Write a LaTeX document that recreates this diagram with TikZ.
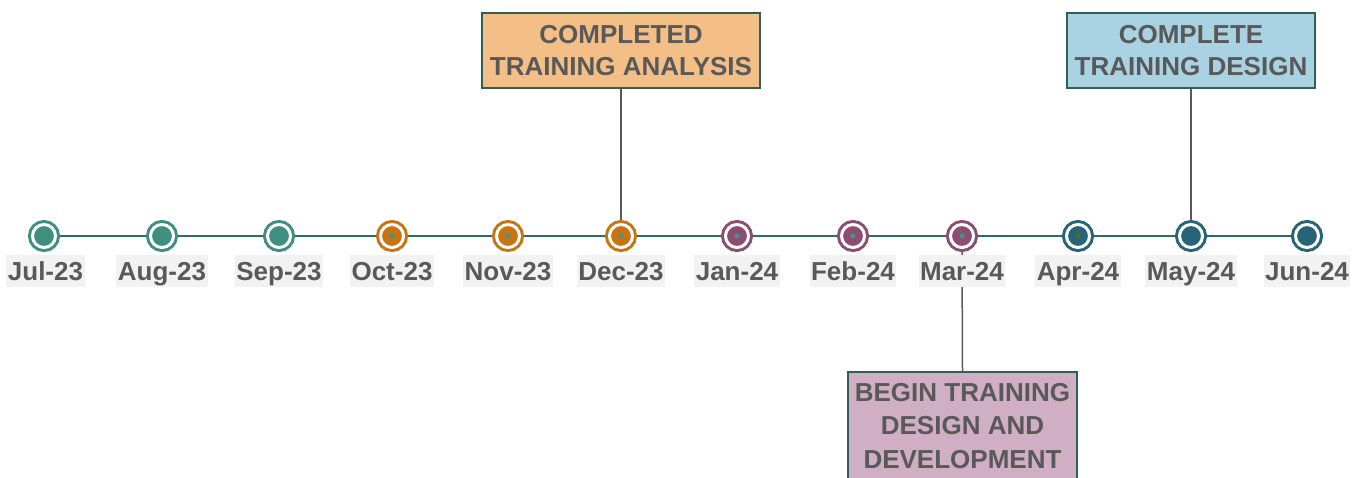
\documentclass[tikz,border=0pt]{standalone}
\usepackage{fontspec}
\setmainfont{Liberation Sans}
\usetikzlibrary{backgrounds}

\definecolor{axisline}{HTML}{2F6A64}
\definecolor{boxline}{HTML}{2F5F57}
\definecolor{linkgray}{HTML}{595959}
\definecolor{txtgray}{HTML}{595959}
\definecolor{labelbg}{HTML}{F2F2F2}
\definecolor{qone}{HTML}{3F8F81}
\definecolor{qtwo}{HTML}{C97412}
\definecolor{qthree}{HTML}{8B4E72}
\definecolor{qfour}{HTML}{286478}
\definecolor{dotteal}{HTML}{479482}
\definecolor{dotolive}{HTML}{5F6A1D}
\definecolor{analysisfill}{HTML}{F4BF86}
\definecolor{designfill}{HTML}{A9D3E3}
\definecolor{devfill}{HTML}{D0AFC4}

\begin{document}
\begin{tikzpicture}[
    font=\fontsize{14.8}{18}\selectfont\bfseries,
    ms/.style={circle,minimum size=0.46cm,inner sep=0pt,outer sep=0.09cm,
      line width=0.06cm,draw=#1,double=white,double distance=0.06cm,fill=#1},
    month/.style={fill=labelbg,text=txtgray,inner xsep=0.03cm,inner ysep=0.12cm,
      text height=0.38cm,text depth=0.02cm},
    goal/.style={draw=boxline,line width=0.04cm,align=center,text=txtgray,inner sep=0pt},
    link/.style={draw=linkgray,line width=0.03cm}
  ]
    \useasboundingbox (0,-4.82) rectangle (27.28,4.72);
    \clip (0,-4.82) rectangle (27.28,4.72);

    % milestones
    \node[ms=qone] (jul) at (0.88,0) {};
    \node[ms=qone] (aug) at (3.24,0) {};
    \node[ms=qone] (sep) at (5.58,0) {};
    \node[ms=qtwo] (oct) at (7.84,0) {};
    \node[ms=qtwo] (nov) at (10.16,0) {};
    \node[ms=qtwo] (dec) at (12.42,0) {};
    \node[ms=qthree] (jan) at (14.74,0) {};
    \node[ms=qthree] (feb) at (17.06,0) {};
    \node[ms=qthree] (mar) at (19.24,0) {};
    \node[ms=qfour] (apr) at (21.56,0) {};
    \node[ms=qfour] (may) at (23.82,0) {};
    \node[ms=qfour] (jun) at (26.14,0) {};

    \fill[dotteal] (oct) circle (0.05);
    \fill[dotteal] (nov) circle (0.05);
    \fill[dotteal] (dec) circle (0.05);
    \fill[dotteal] (jan) circle (0.05);
    \fill[dotteal] (feb) circle (0.05);
    \fill[dotteal] (mar) circle (0.05);
    \fill[dotolive] (apr) circle (0.05);

    % month labels
    \node[month] (l-jul) at (0.91,-0.70) {Jul-23};
    \node[month] (l-aug) at (3.24,-0.70) {Aug-23};
    \node[month] (l-sep) at (5.58,-0.70) {Sep-23};
    \node[month] (l-oct) at (7.84,-0.70) {Oct-23};
    \node[month] (l-nov) at (10.16,-0.70) {Nov-23};
    \node[month] (l-dec) at (12.42,-0.70) {Dec-23};
    \node[month] (l-jan) at (14.74,-0.70) {Jan-24};
    \node[month] (l-feb) at (17.06,-0.70) {Feb-24};
    \node[month] (l-mar) at (19.24,-0.70) {Mar-24};
    \node[month] (l-apr) at (21.56,-0.70) {Apr-24};
    \node[month] (l-may) at (23.82,-0.70) {May-24};
    \node[month] (l-jun) at (26.14,-0.70) {Jun-24};

    % goal boxes
    \node[goal,fill=analysisfill,minimum width=5.56cm,minimum height=1.5cm] (cta)
      at (12.42,3.71) {COMPLETED\\TRAINING ANALYSIS};
    \node[goal,fill=designfill,minimum width=4.96cm,minimum height=1.5cm] (ctd)
      at (23.82,3.71) {COMPLETE\\TRAINING DESIGN};
    \node[goal,fill=devfill,minimum width=4.58cm,minimum height=2.16cm] (btd)
      at (19.25,-3.80) {BEGIN TRAINING\\[1pt]DESIGN AND\\[1pt]DEVELOPMENT};

    \begin{scope}[on background layer]
      \draw[axisline,line width=0.05cm] (jul.center) -- (jun.center);
      \draw[link] (cta.south) -- (dec.north);
      \draw[link] (ctd.south) -- (may.north);
      \draw[link] (mar.south) -- (btd.north);
    \end{scope}
  \end{tikzpicture}
\end{document}
